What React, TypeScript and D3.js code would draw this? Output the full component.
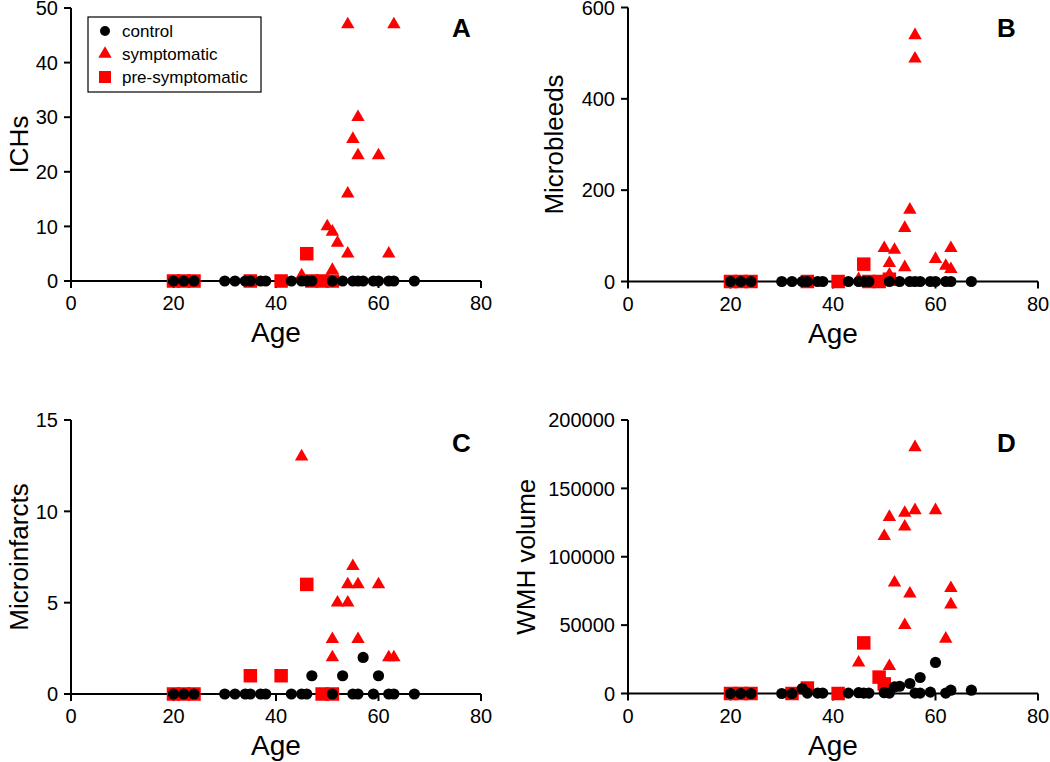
import React from 'react';
import * as d3 from 'd3';

// ---------- data ----------
const AGE_TICKS = [0, 20, 40, 60, 80];

const ICH_TICKS = [0, 10, 20, 30, 40, 50];
const MB_TICKS = [0, 200, 400, 600];
const MI_TICKS = [0, 5, 10, 15];
const WMH_TICKS = [0, 50000, 100000, 150000, 200000];

// [age, value]
const ICH_CONTROL: [number, number][] = [
  [20, 0], [22, 0], [24, 0], [30, 0], [32, 0], [34, 0], [35, 0], [37, 0], [38, 0], [43, 0], [45, 0], [46, 0],
  [47, 0], [51, 0], [53, 0], [55, 0], [56, 0], [57, 0], [59, 0], [60, 0], [62, 0], [63, 0], [67, 0],
];
const ICH_SYMPTOMATIC: [number, number][] = [
  [54, 47], [63, 47], [56, 30], [55, 26], [56, 23], [60, 23], [54, 16], [50, 10], [51, 9], [52, 7],
  [54, 5], [62, 5], [45, 1], [51, 2],
];
const ICH_PRESYMPTOMATIC: [number, number][] = [
  [20, 0], [22, 0], [24, 0], [35, 0], [41, 0], [46, 5], [47, 0], [49, 0], [51, 0],
];

const MB_CONTROL: [number, number][] = [
  [20, 0], [22, 0], [24, 0], [30, 0], [32, 0], [34, 0], [35, 0], [37, 0], [38, 0], [43, 0], [45, 0], [46, 0],
  [47, 0], [51, 0], [53, 0], [55, 0], [56, 0], [57, 0], [59, 0], [60, 0], [62, 0], [63, 0], [67, 0],
];
const MB_SYMPTOMATIC: [number, number][] = [
  [56, 539], [56, 488], [55, 157], [54, 117], [50, 73], [52, 69], [63, 73], [60, 49], [51, 40], [62, 34],
  [54, 31], [63, 27], [51, 15], [45, 5],
];
const MB_PRESYMPTOMATIC: [number, number][] = [
  [20, 0], [22, 0], [24, 0], [35, 0], [41, 0], [46, 38], [47, 0], [49, 0], [51, 5],
];

const MI_CONTROL: [number, number][] = [
  [20, 0], [22, 0], [24, 0], [30, 0], [32, 0], [34, 0], [35, 0], [37, 0], [38, 0], [43, 0], [45, 0], [46, 0],
  [47, 1], [51, 0], [53, 1], [55, 0], [56, 0], [57, 2], [59, 0], [60, 1], [62, 0], [63, 0], [67, 0],
];
const MI_SYMPTOMATIC: [number, number][] = [
  [45, 13], [55, 7], [54, 6], [56, 6], [60, 6], [52, 5], [54, 5], [51, 3], [56, 3], [51, 2], [62, 2], [63, 2],
];
const MI_PRESYMPTOMATIC: [number, number][] = [
  [20, 0], [22, 0], [24, 0], [35, 1], [41, 1], [46, 6], [49, 0], [51, 0],
];

const WMH_CONTROL: [number, number][] = [
  [20, 0], [22, 0], [24, 0], [30, 0], [32, 0], [34, 3600], [35, 300], [37, 300], [38, 300], [43, 300],
  [45, 600], [46, 300], [47, 300], [50, 600], [51, 300], [52, 4800], [53, 5300], [55, 7300], [56, 300],
  [57, 11700], [57, 300], [59, 1000], [60, 22700], [62, 300], [63, 2400], [67, 2400],
];
const WMH_SYMPTOMATIC: [number, number][] = [
  [56, 180000], [56, 134000], [54, 132000], [51, 129000], [60, 134000], [54, 122000], [50, 115000],
  [52, 81000], [55, 73000], [63, 77000], [63, 65000], [54, 50000], [62, 40000], [45, 22500], [51, 20000],
];
const WMH_PRESYMPTOMATIC: [number, number][] = [
  [20, 0], [22, 0], [24, 0], [32, 0], [35, 4000], [41, 0], [46, 37000], [49, 12000], [50, 7000],
];

const LEGEND_LABELS = ['control', 'symptomatic', 'pre-symptomatic'];

// ---------- layout ----------
const FONT = '"Liberation Sans", Arial, Helvetica, sans-serif';
const RED = '#ff0000';

type Panel = {
  letter: string;
  title: string;
  yTicks: number[];
  control: [number, number][];
  symptomatic: [number, number][];
  pre: [number, number][];
  left: number;
  right: number;
  top: number;
  bottom: number;
  titleX: number;
  letterX: number;
  letterY: number;
  legend?: boolean;
};

const PANELS: Panel[] = [
  { letter: 'A', title: 'ICHs', yTicks: ICH_TICKS, control: ICH_CONTROL, symptomatic: ICH_SYMPTOMATIC, pre: ICH_PRESYMPTOMATIC,
    left: 71, right: 481, top: 8, bottom: 281, titleX: 28, letterX: 452, letterY: 37, legend: true },
  { letter: 'B', title: 'Microbleeds', yTicks: MB_TICKS, control: MB_CONTROL, symptomatic: MB_SYMPTOMATIC, pre: MB_PRESYMPTOMATIC,
    left: 628, right: 1038, top: 7.5, bottom: 281.5, titleX: 563, letterX: 997, letterY: 37 },
  { letter: 'C', title: 'Microinfarcts', yTicks: MI_TICKS, control: MI_CONTROL, symptomatic: MI_SYMPTOMATIC, pre: MI_PRESYMPTOMATIC,
    left: 71, right: 481, top: 420, bottom: 694, titleX: 28, letterX: 452, letterY: 452 },
  { letter: 'D', title: 'WMH volume', yTicks: WMH_TICKS, control: WMH_CONTROL, symptomatic: WMH_SYMPTOMATIC, pre: WMH_PRESYMPTOMATIC,
    left: 628, right: 1038, top: 420, bottom: 693.5, titleX: 535, letterX: 997, letterY: 452 },
];

const circlePath = d3.symbol().type(d3.symbolCircle).size(Math.PI * 5.6 * 5.6)()!;
const trianglePath = d3.symbol().type(d3.symbolTriangle).size(78)()!;
const squarePath = d3.symbol().type(d3.symbolSquare).size(13.5 * 13.5)()!;

function PanelView({ p }: { p: Panel }) {
  const x = d3.scaleLinear().domain([0, 80]).range([p.left, p.right]);
  const yMax = p.yTicks[p.yTicks.length - 1];
  const y = d3.scaleLinear().domain([0, yMax]).range([p.bottom, p.top]);
  const midY = (p.top + p.bottom) / 2;
  return (
    <g>
      {/* axes */}
      <line x1={p.left} x2={p.left} y1={y(yMax)} y2={p.bottom} stroke="#000" strokeWidth={2} />
      <line x1={p.left} x2={x(80)} y1={p.bottom} y2={p.bottom} stroke="#000" strokeWidth={2} />
      {p.yTicks.map((t) => (
        <g key={'y' + t}>
          <line x1={p.left - 7} x2={p.left} y1={y(t)} y2={y(t)} stroke="#000" strokeWidth={2} />
          <text x={p.left - 13} y={y(t)} dy="0.36em" textAnchor="end" fontSize={20} fontFamily={FONT} fill="#000">
            {String(t)}
          </text>
        </g>
      ))}
      {AGE_TICKS.map((t) => (
        <g key={'x' + t}>
          <line x1={x(t)} x2={x(t)} y1={p.bottom} y2={p.bottom + 7} stroke="#000" strokeWidth={2} />
          <text x={x(t)} y={p.bottom + 29} textAnchor="middle" fontSize={20} fontFamily={FONT} fill="#000">
            {String(t)}
          </text>
        </g>
      ))}
      <text x={x(40)} y={p.bottom + 61} textAnchor="middle" fontSize={28} fontFamily={FONT} fill="#000">Age</text>
      <text transform={`translate(${p.titleX},${midY}) rotate(-90)`} textAnchor="middle" fontSize={26} fontFamily={FONT} fill="#000">
        {p.title}
      </text>
      <text x={p.letterX} y={p.letterY} fontSize={26} fontWeight="bold" fontFamily={FONT} fill="#000">{p.letter}</text>
      {/* marks */}
      {p.pre.map(([a, v], i) => (
        <path key={'s' + i} d={squarePath} transform={`translate(${x(a)},${y(v)})`} fill={RED} />
      ))}
      {p.symptomatic.map(([a, v], i) => (
        <path key={'t' + i} d={trianglePath} transform={`translate(${x(a)},${y(v)})`} fill={RED} />
      ))}
      {p.control.map(([a, v], i) => (
        <path key={'c' + i} d={circlePath} transform={`translate(${x(a)},${y(v)})`} fill="#000" />
      ))}
      {p.legend && (
        <g>
          <rect x={88} y={17} width={173} height={75} fill="#fff" stroke="#000" strokeWidth={1.2} />
          {LEGEND_LABELS.map((lab, i) => {
            const cy = 31 + i * 23;
            const d = i === 0 ? d3.symbol().type(d3.symbolCircle).size(Math.PI * 5 * 5)()! :
              i === 1 ? trianglePath : d3.symbol().type(d3.symbolSquare).size(12 * 12)()!;
            return (
              <g key={lab}>
                <path d={d} transform={`translate(105,${cy})`} fill={i === 0 ? '#000' : RED} />
                <text x={122} y={cy} dy="0.36em" fontSize={17} fontFamily={FONT} fill="#000">{lab}</text>
              </g>
            );
          })}
        </g>
      )}
    </g>
  );
}

export default function App() {
  return (
    <svg width={1050} height={762} style={{ position: 'absolute', left: 0, top: 0, background: '#fff' }}>
      <rect x={0} y={0} width={1050} height={762} fill="#fff" />
      {PANELS.map((p) => (
        <PanelView key={p.letter} p={p} />
      ))}
    </svg>
  );
}
